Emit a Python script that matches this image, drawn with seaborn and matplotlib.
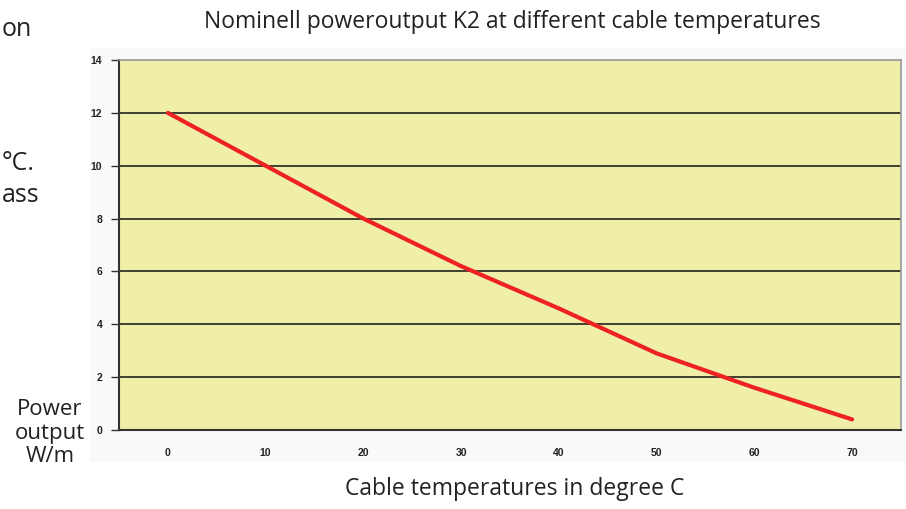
import matplotlib
matplotlib.use("Agg")
import matplotlib.pyplot as plt
import seaborn as sns
import pandas as pd

temperatures = [0, 10, 20, 30, 40, 50, 60, 70]
power_output = [12.0, 10.0, 8.0, 6.2, 4.6, 2.9, 1.6, 0.4]
y_ticks = [0, 2, 4, 6, 8, 10, 12, 14]

title = "Nominell poweroutput K2 at different cable temperatures"
xlabel = "Cable temperatures in degree C"
ylabel = "Power\noutput\nW/m"

sns.set_theme(style="white")
text_font = ["Open Sans", "DejaVu Sans"]
plt.rcParams["font.family"] = text_font

df = pd.DataFrame({"temp": temperatures, "power": power_output})

fig = plt.figure(figsize=(9.06, 5.09), dpi=100)
# faint chart-area panel
panel = plt.Rectangle((90/906, 1-462/509), (906-90)/906, (462-48)/509,
                      transform=fig.transFigure, facecolor="#f9f9f9",
                      edgecolor="none", zorder=-5)
fig.add_artist(panel)
ax = fig.add_axes([119/906, 1-430/509, (901-119)/906, (430-60)/509])
ax.set_zorder(2)
ax.set_facecolor("#efefa9")

for y in y_ticks[1:-1]:
    ax.axhline(y, color="#111111", lw=1.1, zorder=1)

sns.lineplot(data=df, x="temp", y="power", ax=ax, color="#ee2222", lw=3, zorder=3)

ax.set_xlim(-5, 75)
ax.set_ylim(0, 14)
ax.set_xticks(temperatures)
ax.set_yticks(y_ticks)
ax.set_xticklabels([str(t) for t in temperatures], fontfamily="Liberation Sans",
                   fontweight="bold", fontsize=7.5, color="#222222")
ax.set_yticklabels([str(t) for t in y_ticks], fontfamily="Liberation Sans",
                   fontweight="bold", fontsize=7.5, color="#222222")
ax.tick_params(axis="y", which="both", left=True, length=6, width=1, color="#333333", pad=6)
ax.tick_params(axis="x", which="both", bottom=False, pad=7)
ax.set_xlabel("")
ax.set_ylabel("")

for side in ["left", "bottom"]:
    ax.spines[side].set_color("#333333")
    ax.spines[side].set_linewidth(1.5)
for side in ["top", "right"]:
    ax.spines[side].set_color("#999999")
    ax.spines[side].set_linewidth(1.2)

fig.text(512/906, 1-22/509, title, ha="center", va="center", fontsize=16.5, color="#222222")
fig.text(515/906, 1-489/509, xlabel, ha="center", va="center", fontsize=16.5, color="#222222")
fig.text(50/906, 1-433/509, ylabel, ha="center", va="center", fontsize=16,
         color="#222222", linespacing=1.15)

# fragments of surrounding page text
fig.text(2/906, 1-30/509, "on", ha="left", va="center", fontsize=18, color="#222222")
fig.text(2/906, 1-163/509, "°C.", ha="left", va="center", fontsize=18, color="#222222")
fig.text(2/906, 1-195/509, "ass", ha="left", va="center", fontsize=18, color="#222222")

fig.savefig("out.png", dpi=100)
